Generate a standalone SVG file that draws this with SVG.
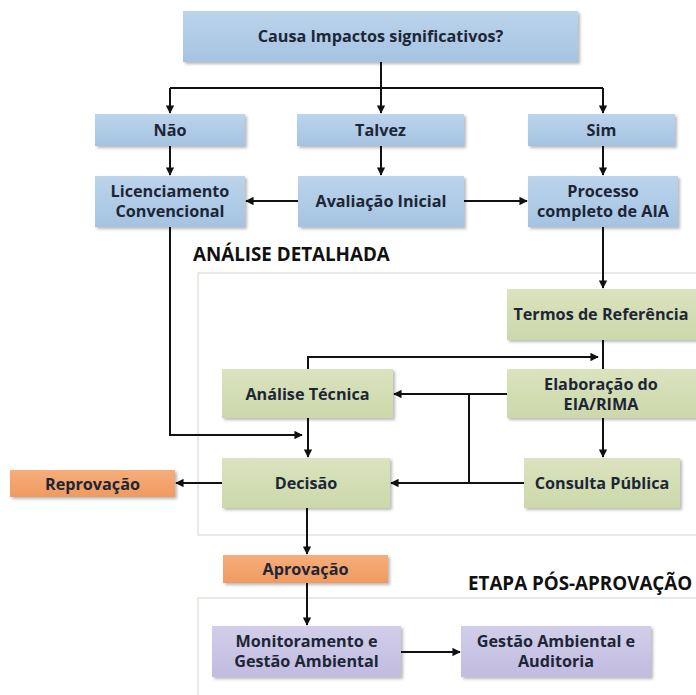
<svg xmlns="http://www.w3.org/2000/svg" width="696" height="695" viewBox="0 0 696 695">
  <defs>
    <linearGradient id="gBlue" x1="0" y1="0" x2="0" y2="1">
      <stop offset="0" stop-color="#bcd4ec"/>
      <stop offset="1" stop-color="#a5c3e1"/>
    </linearGradient>
    <linearGradient id="gGreen" x1="0" y1="0" x2="0" y2="1">
      <stop offset="0" stop-color="#dbe3bf"/>
      <stop offset="1" stop-color="#ccd8aa"/>
    </linearGradient>
    <linearGradient id="gOrange" x1="0" y1="0" x2="0" y2="1">
      <stop offset="0" stop-color="#f6ad7a"/>
      <stop offset="1" stop-color="#f09a60"/>
    </linearGradient>
    <linearGradient id="gPurple" x1="0" y1="0" x2="0" y2="1">
      <stop offset="0" stop-color="#d2cee9"/>
      <stop offset="1" stop-color="#c1bce0"/>
    </linearGradient>
    <filter id="shadow" x="-10%" y="-10%" width="130%" height="140%">
      <feDropShadow dx="2" dy="2" stdDeviation="1.5" flood-color="#000" flood-opacity="0.28"/>
    </filter>
    <marker id="arrow" viewBox="0 0 10 10" refX="9" refY="5" markerWidth="4.2" markerHeight="4.2" orient="auto" markerUnits="strokeWidth">
      <path d="M0,0 L10,5 L0,10 z" fill="#111"/>
    </marker>
  </defs>
  <style>
    .box { filter: url(#shadow); }
    .blue { fill: url(#gBlue); }
    .green { fill: url(#gGreen); }
    .orange { fill: url(#gOrange); }
    .purple { fill: url(#gPurple); }
    .lbl { font-family: "Open Sans", "Liberation Sans", sans-serif; font-weight: bold; font-size: 16.2px; fill: #1d2636; text-anchor: middle; }
    .sect { font-family: "Open Sans", "Liberation Sans", sans-serif; font-weight: bold; font-size: 18.8px; fill: #111; }
    .region { fill: none; stroke: #e2e4dc; stroke-width: 1.5; }
    .wire { fill: none; stroke: #111; stroke-width: 2; }
    .arr { marker-end: url(#arrow); }
  </style>

  <rect width="696" height="695" fill="#ffffff"/>

  <!-- stage frames -->
  <g id="regions">
    <rect class="region" x="198" y="273" width="520" height="262"/>
    <rect class="region" x="198" y="598" width="520" height="120"/>
    <text class="sect" x="193" y="261">ANÁLISE DETALHADA</text>
    <text class="sect" x="468" y="590">ETAPA PÓS-APROVAÇÃO</text>
  </g>

  <!-- connectors -->
  <g id="connectors">
    <path class="wire arr" d="M381,62 V113"/>
    <path class="wire" d="M170,88 H603"/>
    <path class="wire arr" d="M170,88 V113"/>
    <path class="wire arr" d="M603,88 V113"/>
    <path class="wire arr" d="M170,146 V175"/>
    <path class="wire arr" d="M381,146 V175"/>
    <path class="wire arr" d="M603,146 V175"/>
    <path class="wire arr" d="M298,201 H246"/>
    <path class="wire arr" d="M464,201 H527"/>
    <path class="wire arr" d="M170,227 V435 H302"/>
    <path class="wire arr" d="M603,227 V288"/>
    <path class="wire" d="M603,340 V369"/>
    <path class="wire arr" d="M308,369 V357 H598"/>
    <path class="wire arr" d="M507,394 H394"/>
    <path class="wire" d="M469,394 V483"/>
    <path class="wire arr" d="M524,483 H391"/>
    <path class="wire arr" d="M603,418 V457"/>
    <path class="wire arr" d="M308,418 V457"/>
    <path class="wire arr" d="M222,483 H176"/>
    <path class="wire arr" d="M307,508 V554"/>
    <path class="wire arr" d="M307,583 V625"/>
    <path class="wire arr" d="M401,652 H460"/>
  </g>

  <!-- screening -->
  <g id="n-causa">
    <rect class="box blue" x="183" y="11" width="395" height="51"/>
    <text class="lbl" x="380.5" y="42">Causa Impactos significativos?</text>
  </g>
  <g id="n-nao">
    <rect class="box blue" x="95" y="114" width="150" height="32"/>
    <text class="lbl" x="170" y="136">Não</text>
  </g>
  <g id="n-talvez">
    <rect class="box blue" x="297" y="114" width="167" height="32"/>
    <text class="lbl" x="380.5" y="136">Talvez</text>
  </g>
  <g id="n-sim">
    <rect class="box blue" x="528" y="114" width="147" height="32"/>
    <text class="lbl" x="601.5" y="136">Sim</text>
  </g>
  <g id="n-licenciamento">
    <rect class="box blue" x="95" y="176" width="150" height="51"/>
    <text class="lbl" x="170" y="197">Licenciamento</text>
    <text class="lbl" x="170" y="217">Convencional</text>
  </g>
  <g id="n-avaliacao">
    <rect class="box blue" x="298" y="176" width="166" height="51"/>
    <text class="lbl" x="381" y="207">Avaliação Inicial</text>
  </g>
  <g id="n-processo">
    <rect class="box blue" x="528" y="176" width="150" height="51"/>
    <text class="lbl" x="603" y="197">Processo</text>
    <text class="lbl" x="603" y="217">completo de AIA</text>
  </g>

  <!-- detailed analysis -->
  <g id="n-termos">
    <rect class="box green" x="507" y="289" width="190" height="51"/>
    <text class="lbl" x="601" y="320">Termos de Referência</text>
  </g>
  <g id="n-elaboracao">
    <rect class="box green" x="507" y="369" width="190" height="49"/>
    <text class="lbl" x="601" y="390">Elaboração do</text>
    <text class="lbl" x="601" y="410">EIA/RIMA</text>
  </g>
  <g id="n-analise">
    <rect class="box green" x="222" y="369" width="171" height="49"/>
    <text class="lbl" x="307.5" y="399.5">Análise Técnica</text>
  </g>
  <g id="n-consulta">
    <rect class="box green" x="524" y="458" width="156" height="50"/>
    <text class="lbl" x="602" y="489">Consulta Pública</text>
  </g>
  <g id="n-decisao">
    <rect class="box green" x="222" y="458" width="168" height="50"/>
    <text class="lbl" x="306" y="489">Decisão</text>
  </g>
  <g id="n-reprovacao">
    <rect class="box orange" x="10" y="470" width="165" height="27"/>
    <text class="lbl" x="92.5" y="489.5">Reprovação</text>
  </g>
  <g id="n-aprovacao">
    <rect class="box orange" x="223" y="555" width="165" height="28"/>
    <text class="lbl" x="305.5" y="575">Aprovação</text>
  </g>

  <!-- post-approval -->
  <g id="n-monitoramento">
    <rect class="box purple" x="212" y="626" width="189" height="51"/>
    <text class="lbl" x="306.5" y="647">Monitoramento e</text>
    <text class="lbl" x="306.5" y="667">Gestão Ambiental</text>
  </g>
  <g id="n-gestao">
    <rect class="box purple" x="461" y="626" width="190" height="51"/>
    <text class="lbl" x="556" y="647">Gestão Ambiental e</text>
    <text class="lbl" x="556" y="667">Auditoria</text>
  </g>
</svg>
